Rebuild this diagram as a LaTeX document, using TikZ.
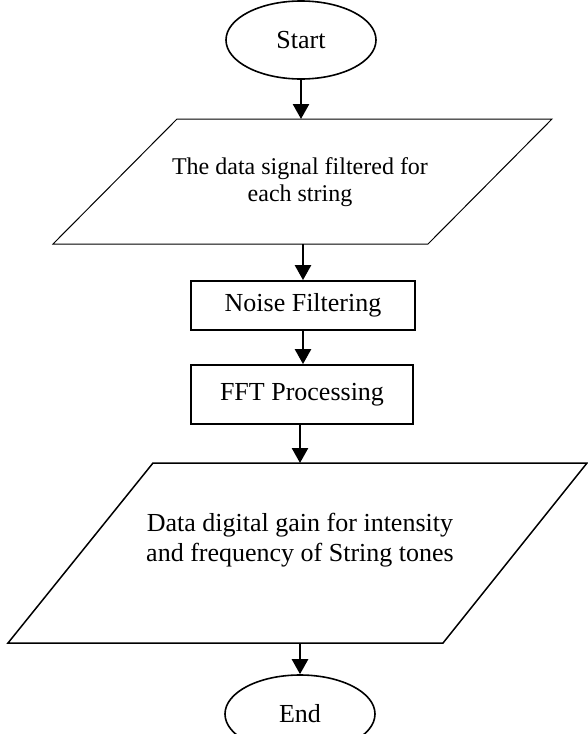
\documentclass[tikz,border=0pt]{standalone}
\usepackage{fontspec}
\setmainfont{Liberation Serif}
\usetikzlibrary{shapes.geometric,arrows.meta}
\begin{document}
\begin{tikzpicture}[x=1pt,y=-1pt,
  txt/.style={font=\fontsize{26}{30}\selectfont, align=center},
  smalltxt/.style={font=\fontsize{24}{27}\selectfont, align=center},
  terminal/.style={ellipse, draw, line width=1.6pt, minimum width=150pt, minimum height=78pt, inner sep=0pt, txt},
  procbox/.style={draw, line width=1.8pt, inner sep=0pt, txt},
  flow/.style={line width=2.5pt, -{Triangle[length=15pt,width=16pt]}},
  io/.style={draw, line width=1pt, line join=miter}
]
\useasboundingbox (0,0) rectangle (588,734);
\node[terminal] (start) at (301,40) {Start};
\draw[io] (177,119) -- (552,119) -- (428,244) -- (53,244) -- cycle;
\coordinate (p1t) at (301,119);
\coordinate (p1b) at (303,244);
\node[smalltxt] (p1) at (300,182) {The data signal filtered for\\each string};
\node[procbox, minimum width=224pt, minimum height=49pt] (noise) at (303,305.5) {Noise Filtering};
\node[procbox, minimum width=222pt, minimum height=59pt] (fft) at (302,394.5) {FFT Processing};
\draw[io, line width=1.5pt] (153,463) -- (587,463) -- (443,643) -- (8,643) -- cycle;
\coordinate (p2t) at (300,463);
\coordinate (p2b) at (300,643);
\node[txt] (p2) at (300,540) {Data digital gain for intensity\\and frequency of String tones};
\node[terminal] (end) at (300,714) {End};
\draw[flow] (start.south) -- (p1t);
\draw[flow] (p1b) -- (p1b |- noise.north);
\draw[flow] (noise.south) -- (noise.south |- fft.north);
\draw[flow] (fft.south -| p2t) -- (p2t);
\draw[flow] (p2b) -- (end.north);
\end{tikzpicture}
\end{document}
